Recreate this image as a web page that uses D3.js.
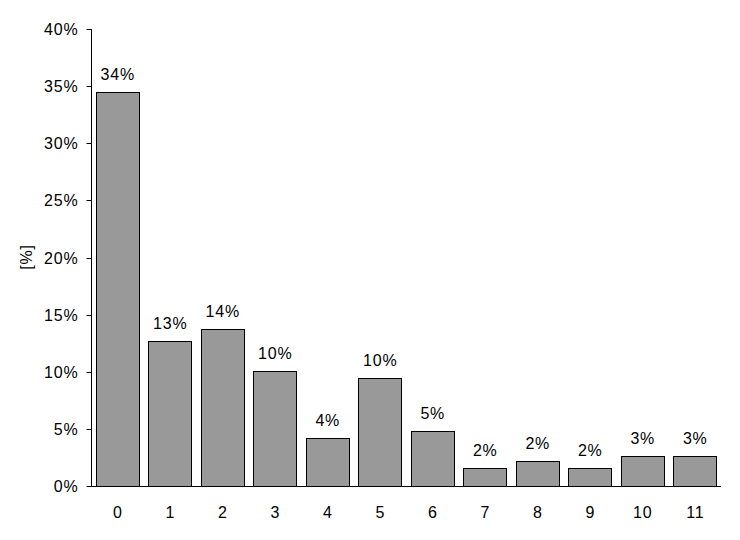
<!DOCTYPE html>
<html><head><meta charset="utf-8">
<script src="https://cdn.jsdelivr.net/npm/d3@7"></script>
<style>body{margin:0;background:#fff}svg{display:block}
text{font-family:Arial,"Liberation Sans",sans-serif;font-size:16px;letter-spacing:0.8px;fill:#000}</style>
</head><body>
<svg id="c" width="740" height="540"></svg>
<script>
const categories = ["0","1","2","3","4","5","6","7","8","9","10","11"];
const values = [34.45, 12.67, 13.7, 10.07, 4.2, 9.42, 4.78, 1.55, 2.19, 1.55, 2.6, 2.6];
const labels = ["34%","13%","14%","10%","4%","10%","5%","2%","2%","2%","3%","3%"];
const yTicks = [0,5,10,15,20,25,30,35,40];
const yTitle = "[%]";

(function(){
const svg = d3.select("#c");
const mLeft = 91, mRight = 721, mTop = 29, mBottom = 486;
const x = d3.scaleBand().domain(categories).range([mLeft, mRight]).paddingInner(0.18).paddingOuter(0.09);
const y = d3.scaleLinear().domain([0, 40]).range([mBottom, mTop]);

svg.append("g").selectAll("rect").data(values).join("rect")
  .attr("x", (d,i) => Math.round(x(categories[i])) + 0.5)
  .attr("y", d => Math.round(y(d)) + 0.5)
  .attr("width", Math.round(x.bandwidth()))
  .attr("height", d => mBottom - Math.round(y(d)))
  .attr("fill", "#999999").attr("stroke", "#000").attr("stroke-width", 1);

svg.append("g").selectAll("text").data(values).join("text")
  .attr("x", (d,i) => x(categories[i]) + x.bandwidth()/2 + 0.5)
  .attr("y", d => y(d) - 12)
  .attr("text-anchor", "middle")
  .text((d,i) => labels[i]);

const yAxis = svg.append("g").attr("transform", `translate(${mLeft + 0.5},0)`)
  .call(d3.axisLeft(y).tickValues(yTicks).tickFormat(d => d + "%").tickSize(5).tickPadding(8));
yAxis.attr("font-family", null).attr("font-size", null);
yAxis.select(".domain").attr("d", `M0,${mTop}V${mBottom}`).attr("stroke", "#000");
yAxis.selectAll(".tick line").attr("stroke", "#000");
yAxis.selectAll(".tick text").attr("fill", null);
yAxis.selectAll(".tick").attr("transform", d => `translate(0,${Math.round(y(d)) + 0.5})`);

const xAxis = svg.append("g").attr("transform", `translate(0,${mBottom + 0.5})`)
  .call(d3.axisBottom(x).tickSize(0).tickPadding(20));
xAxis.attr("font-family", null).attr("font-size", null);
xAxis.select(".domain").attr("d", `M${mLeft},0H${mRight}`).attr("stroke", "#000");
xAxis.selectAll(".tick text").attr("fill", null).attr("dx", "0.5");

svg.append("text").attr("transform", "translate(32,257) rotate(-90)")
  .attr("text-anchor", "middle").text(yTitle);
})();
</script>
</body></html>
